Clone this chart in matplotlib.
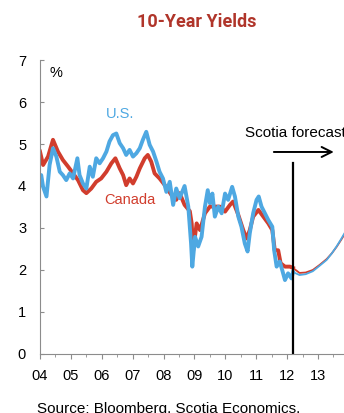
import matplotlib.pyplot as plt
from matplotlib.ticker import MultipleLocator

# US 10-year yield (decimal year, %)
us_t = [2004.00, 2004.04, 2004.10, 2004.21, 2004.31, 2004.42, 2004.53, 2004.64, 2004.74,
        2004.85, 2004.96, 2005.07, 2005.21, 2005.28, 2005.39, 2005.50, 2005.61, 2005.71,
        2005.82, 2005.93, 2006.04, 2006.15, 2006.25, 2006.36, 2006.47, 2006.58, 2006.69,
        2006.79, 2006.90, 2007.01, 2007.12, 2007.23, 2007.33, 2007.44, 2007.55, 2007.66,
        2007.77, 2007.87, 2007.98, 2008.09, 2008.20, 2008.31, 2008.41, 2008.52, 2008.68,
        2008.80, 2008.89, 2008.93, 2009.02, 2009.12, 2009.23, 2009.34, 2009.43, 2009.50,
        2009.58, 2009.66, 2009.77, 2009.88, 2009.99, 2010.09, 2010.22, 2010.31, 2010.42,
        2010.52, 2010.63, 2010.72, 2010.79, 2010.90, 2011.01, 2011.08, 2011.17, 2011.28,
        2011.39, 2011.52, 2011.58, 2011.66, 2011.76, 2011.84, 2011.93, 2012.03, 2012.14,
        2012.19]
us_y = [4.20, 4.26, 3.98, 3.75, 4.50, 4.90, 4.70, 4.34, 4.26,
        4.14, 4.30, 4.18, 4.66, 4.26, 4.06, 3.94, 4.46, 4.22,
        4.66, 4.54, 4.66, 4.82, 5.06, 5.21, 5.25, 5.02, 4.90,
        4.74, 4.86, 4.70, 4.78, 4.90, 5.10, 5.29, 4.98, 4.82,
        4.58, 4.34, 4.18, 3.86, 4.10, 3.55, 3.94, 3.71, 4.00,
        3.51, 2.63, 2.08, 2.79, 2.56, 2.79, 3.51, 3.90, 3.59,
        3.82, 3.27, 3.51, 3.35, 3.82, 3.67, 3.98, 3.75, 3.27,
        3.03, 2.63, 2.44, 2.87, 3.35, 3.67, 3.75, 3.51, 3.35,
        3.19, 3.03, 2.47, 2.08, 2.20, 2.00, 1.76, 1.92, 1.80,
        1.95]

# Canada 10-year yield
ca_t = [2004.00, 2004.10, 2004.26, 2004.42, 2004.58, 2004.74, 2004.91, 2005.07, 2005.23,
        2005.39, 2005.50, 2005.66, 2005.82, 2005.98, 2006.15, 2006.31, 2006.44, 2006.58,
        2006.69, 2006.79, 2006.90, 2007.01, 2007.12, 2007.23, 2007.39, 2007.49, 2007.60,
        2007.71, 2007.87, 2008.04, 2008.25, 2008.41, 2008.52, 2008.68, 2008.85, 2008.91,
        2008.96, 2009.07, 2009.18, 2009.34, 2009.50, 2009.66, 2009.82, 2009.99, 2010.15,
        2010.25, 2010.42, 2010.58, 2010.69, 2010.79, 2010.90, 2011.07, 2011.23, 2011.39,
        2011.52, 2011.60, 2011.71, 2011.79, 2011.93, 2012.09, 2012.19]
ca_y = [4.82, 4.50, 4.70, 5.10, 4.82, 4.62, 4.46, 4.30, 4.14,
        3.90, 3.83, 3.94, 4.10, 4.18, 4.34, 4.54, 4.66, 4.42,
        4.26, 4.02, 4.18, 4.06, 4.22, 4.42, 4.66, 4.74, 4.58,
        4.30, 4.18, 4.02, 3.79, 3.67, 3.83, 3.55, 3.40, 3.11,
        2.47, 3.11, 2.95, 3.35, 3.51, 3.51, 3.51, 3.39, 3.55,
        3.63, 3.31, 2.95, 2.75, 2.95, 3.27, 3.43, 3.27, 3.11,
        2.95, 2.47, 2.47, 2.16, 2.08, 2.08, 2.05]

# Scotia forecast paths
fc_t = [2012.19, 2012.40, 2012.60, 2012.83, 2013.05, 2013.28, 2013.45, 2013.60, 2013.75, 2013.90]
fc_us = [1.95, 1.88, 1.90, 1.97, 2.10, 2.24, 2.40, 2.56, 2.74, 2.93]
fc_ca = [2.05, 1.93, 1.94, 2.00, 2.12, 2.26, 2.40, 2.55, 2.72, 2.90]

years = list(range(2004, 2014))
year_labels = ["04", "05", "06", "07", "08", "09", "10", "11", "12", "13"]
forecast_start = 2012.19

BLUE = "#4ea8e2"
RED = "#d13d2d"
GREY = "#8c8c8c"

plt.rcParams['font.family'] = ['Liberation Sans', 'DejaVu Sans']

fig = plt.figure(figsize=(3.44, 4.13), dpi=100)
ax = fig.add_axes([0.1163, 0.1429, 0.898, 0.7118])

ax.plot(ca_t, ca_y, color=RED, lw=2.8, solid_joinstyle='round')
ax.plot(us_t, us_y, color=BLUE, lw=2.8, solid_joinstyle='round')
ax.plot(fc_t, fc_ca, color=RED, lw=1.3)
ax.plot(fc_t, fc_us, color=BLUE, lw=1.3)

ax.plot([forecast_start, forecast_start], [0, 4.55], color='black', lw=1.6)
ax.annotate("", xy=(2013.6, 4.81), xytext=(2011.48, 4.81),
            arrowprops=dict(arrowstyle='->', color='black', lw=1.4, mutation_scale=18))
ax.text(2010.63, 5.26, "Scotia forecast", fontsize=11, va='center', ha='left')

ax.text(2006.59, 5.71, "U.S.", color=BLUE, fontsize=10.5, ha='center', va='center')
ax.text(2006.91, 3.67, "Canada", color=RED, fontsize=10.5, ha='center', va='center')
ax.text(2004.5, 6.7, "%", fontsize=10.5, ha='center', va='center')

ax.set_xlim(2004, 2014)
ax.set_ylim(0, 7)
ax.set_xticks(years)
ax.set_xticklabels(year_labels)
ax.xaxis.set_minor_locator(MultipleLocator(0.5))
ax.set_yticks(range(0, 8))

for side in ['top', 'right']:
    ax.spines[side].set_visible(False)
for side in ['left', 'bottom']:
    ax.spines[side].set_color(GREY)
    ax.spines[side].set_linewidth(0.8)

ax.tick_params(axis='x', which='major', direction='out', length=3.5, color=GREY,
               labelsize=10.5, pad=7)
ax.tick_params(axis='x', which='minor', direction='out', length=2.5, color=GREY)
ax.tick_params(axis='y', direction='in', length=3, color=GREY, labelsize=10.5, pad=10)

fig.text(0.573, 0.946, "10-Year Yields", color="#b0352a", fontsize=13, fontweight='bold',
         ha='center', va='center', family=['Roboto', 'DejaVu Sans'], fontstretch='condensed')
fig.text(0.107, 0.026, "Source: Bloomberg, Scotia Economics.", fontsize=11, va='top', ha='left')

fig.savefig("out.png", dpi=100)
